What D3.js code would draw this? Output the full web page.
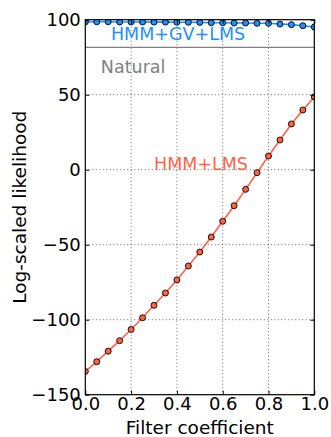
<!DOCTYPE html>
<html>
<head>
<meta charset="utf-8">
<script src="https://cdn.jsdelivr.net/npm/d3@7"></script>
<style>
  html, body { margin: 0; padding: 0; background: #fff; }
  svg { display: block; font-family: "DejaVu Sans", sans-serif; }
</style>
</head>
<body>
<svg id="chart" width="331" height="437"></svg>
<script>
// Filter coefficient sweep (0 → 1 in steps of 0.05)
const coefficients = [0, 0.05, 0.1, 0.15, 0.2, 0.25, 0.3, 0.35, 0.4, 0.45, 0.5,
                      0.55, 0.6, 0.65, 0.7, 0.75, 0.8, 0.85, 0.9, 0.95, 1.0];
const hmmGvLms = [98.5, 98.6, 98.6, 98.5, 98.5, 98.5, 98.4, 98.4, 98.3, 98.3, 98.2,
                  98.0, 98.0, 97.8, 97.8, 97.6, 97.6, 97.1, 96.7, 96.0, 95.1];
const hmmLms = [-134.5, -128, -121, -114, -106.5, -98.7, -90.4, -82.2, -73.5, -64.2, -54.9,
                -44.9, -34.4, -24, -13.1, -2, 9.1, 19.8, 30.5, 39.8, 48.5];
const naturalLevel = 81.6;
const xTicks = [0, 0.2, 0.4, 0.6, 0.8, 1.0];
const yTicks = [-150, -100, -50, 0, 50, 100];

const margin = { left: 85.3, top: 19.7, right: 331 - 314.3, bottom: 437 - 394.7 };
const W = 331, H = 437;
const iw = W - margin.left - margin.right;
const ih = H - margin.top - margin.bottom;

const svg = d3.select("#chart");
const g = svg.append("g").attr("transform", `translate(${margin.left},${margin.top})`);

const x = d3.scaleLinear().domain([0, 1]).range([0, iw]);
const y = d3.scaleLinear().domain([-150, 100]).range([ih, 0]);

const fmtY = d => d3.format("d")(d).replace("-", "\u2212");
const fmtX = d3.format(".1f");

// dotted grid
g.append("g").selectAll("line").data(xTicks.slice(1, -1)).join("line")
  .attr("x1", d => x(d)).attr("x2", d => x(d)).attr("y1", 0).attr("y2", ih)
  .attr("stroke", "#000").attr("stroke-width", 0.6).attr("stroke-dasharray", "1,2.5");
g.append("g").selectAll("line").data(yTicks.slice(1, -1)).join("line")
  .attr("y1", d => y(d)).attr("y2", d => y(d)).attr("x1", 0).attr("x2", iw)
  .attr("stroke", "#000").attr("stroke-width", 0.6).attr("stroke-dasharray", "1,2.5");

// clip region for series
svg.append("defs").append("clipPath").attr("id", "plotclip")
  .append("rect").attr("x", 0).attr("y", 0).attr("width", iw).attr("height", ih);
const plot = g.append("g").attr("clip-path", "url(#plotclip)");

// Natural reference line
plot.append("line")
  .attr("x1", 0).attr("x2", iw).attr("y1", y(naturalLevel)).attr("y2", y(naturalLevel))
  .attr("stroke", "#808080").attr("stroke-width", 1.2);

const line = d3.line().x((d, i) => x(coefficients[i])).y(d => y(d));

function series(values, color) {
  plot.append("path").datum(values)
    .attr("d", line).attr("fill", "none")
    .attr("stroke", color).attr("stroke-width", 1.6);
  plot.append("g").selectAll("circle").data(values).join("circle")
    .attr("cx", (d, i) => x(coefficients[i])).attr("cy", d => y(d))
    .attr("r", 3).attr("fill", color)
    .attr("stroke", "#000").attr("stroke-width", 0.9);
}
series(hmmLms, "#ff6347");
series(hmmGvLms, "#1e90ff");

// in-plot series labels
g.append("text").attr("x", x(0.112)).attr("y", y(86.5))
  .attr("fill", "#1e90ff").attr("font-size", 17.5).text("HMM+GV+LMS");
g.append("text").attr("x", x(0.068)).attr("y", y(64.5))
  .attr("fill", "#808080").attr("font-size", 17.5).text("Natural");
g.append("text").attr("x", x(0.3)).attr("y", y(-0.4))
  .attr("fill", "#ff6347").attr("font-size", 17.5).text("HMM+LMS");

// frame
g.append("rect").attr("x", 0).attr("y", 0).attr("width", iw).attr("height", ih)
  .attr("fill", "none").attr("stroke", "#000").attr("stroke-width", 1.2);

// axes with inward ticks on all four sides
const tickLen = 4;
const axB = d3.axisBottom(x).tickValues(xTicks).tickFormat(fmtX).tickSizeInner(-tickLen).tickSizeOuter(0).tickPadding(3);
const axT = d3.axisTop(x).tickValues(xTicks).tickFormat("").tickSizeInner(-tickLen).tickSizeOuter(0);
const axL = d3.axisLeft(y).tickValues(yTicks).tickFormat(fmtY).tickSizeInner(-tickLen).tickSizeOuter(0).tickPadding(4.5);
const axR = d3.axisRight(y).tickValues(yTicks).tickFormat("").tickSizeInner(-tickLen).tickSizeOuter(0);

function styleAxis(sel) {
  sel.select(".domain").remove();
  sel.selectAll("line").attr("stroke", "#000").attr("stroke-width", 1);
  sel.selectAll("text").attr("fill", "#000").attr("font-size", 18)
    .attr("font-family", "DejaVu Sans, sans-serif");
}
g.append("g").attr("transform", `translate(0,${ih})`).call(axB).call(styleAxis);
g.append("g").call(axT).call(styleAxis);
g.append("g").call(axL).call(styleAxis);
g.append("g").attr("transform", `translate(${iw},0)`).call(axR).call(styleAxis);

// axis titles
svg.append("text").attr("x", margin.left + iw / 2).attr("y", 434)
  .attr("text-anchor", "middle").attr("font-size", 18.5).attr("fill", "#000")
  .text("Filter coefficient");
svg.append("text")
  .attr("transform", `translate(26,${margin.top + ih / 2}) rotate(-90)`)
  .attr("text-anchor", "middle").attr("font-size", 18.5).attr("fill", "#000")
  .text("Log-scaled likelihood");
</script>
</body>
</html>
